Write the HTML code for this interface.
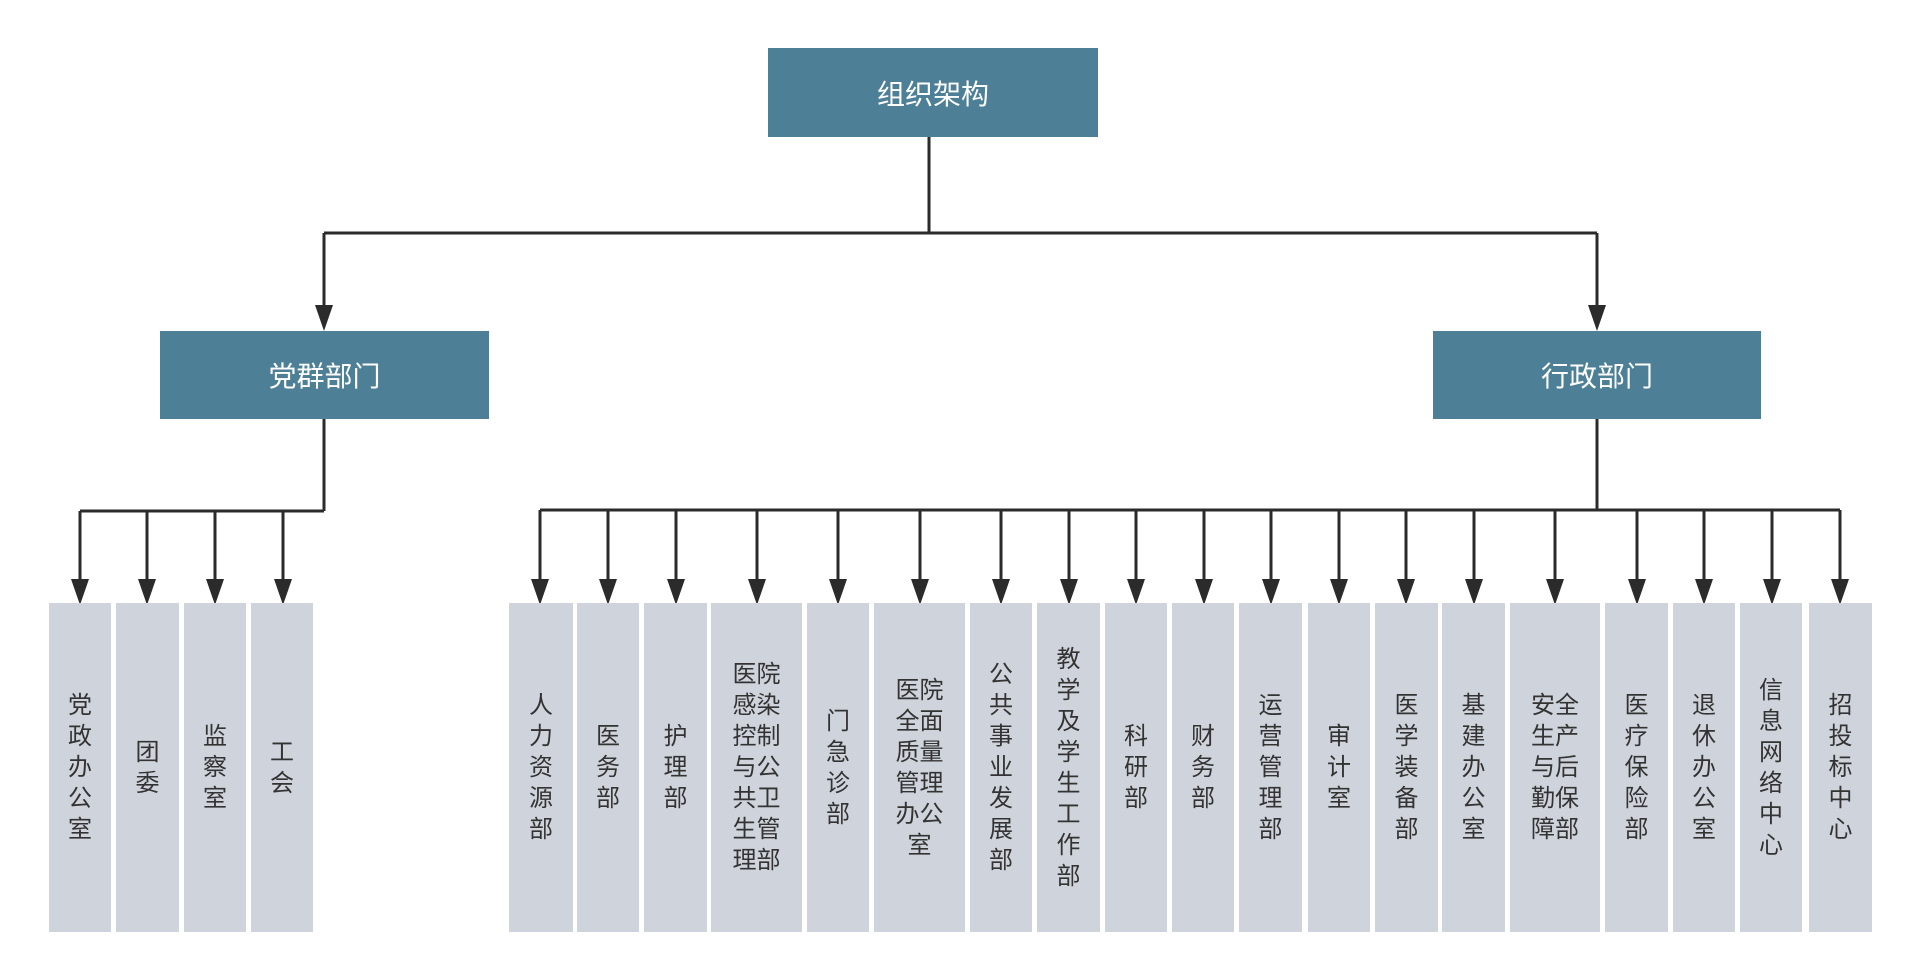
<!DOCTYPE html>
<html><head><meta charset="utf-8"><style>
body{margin:0;width:1920px;height:980px;background:#fff;position:relative;overflow:hidden;font-family:"Liberation Sans","Noto Sans CJK SC",sans-serif}
.h{position:absolute;background:#4d7f96;color:#fff;font-size:28px;display:flex;align-items:center;justify-content:center}
.b{position:absolute;top:603px;height:329px;background:#cfd4dc;color:#333;font-size:24px;line-height:31px;display:flex;align-items:center;justify-content:center;text-align:center}
.b span{width:25px;word-break:break-all}
.b span.w{width:50px}
svg{position:absolute;left:0;top:0}
</style></head><body>
<svg width="1920" height="980">
<defs><marker id="a" markerWidth="18" markerHeight="26" refX="9" refY="25" orient="auto-start-reverse" markerUnits="userSpaceOnUse"><path d="M0,0 L18,0 L9,26 Z" fill="#2b2b2b" transform="rotate(0)"/></marker></defs>
<g stroke="#2b2b2b" stroke-width="3" fill="none">
<line x1="929" y1="137" x2="929" y2="233"/>
<line x1="324" y1="233" x2="1597" y2="233"/>
<line x1="324" y1="233" x2="324" y2="305"/>
<line x1="1597" y1="233" x2="1597" y2="305"/>
<line x1="324" y1="419" x2="324" y2="511"/>
<line x1="80" y1="511" x2="324" y2="511"/>
<line x1="1597" y1="419" x2="1597" y2="510"/>
<line x1="540" y1="510" x2="1840" y2="510"/>
</g>
<g fill="#2b2b2b">
<path d="M315,305 L333,305 L324,331 Z"/>
<path d="M1588,305 L1606,305 L1597,331 Z"/>
</g>
<g stroke="#2b2b2b" stroke-width="3">
<line x1="80" y1="511" x2="80" y2="580"/><line x1="147" y1="511" x2="147" y2="580"/><line x1="215" y1="511" x2="215" y2="580"/><line x1="283" y1="511" x2="283" y2="580"/>
<line x1="540" y1="510" x2="540" y2="580"/><line x1="608" y1="510" x2="608" y2="580"/><line x1="676" y1="510" x2="676" y2="580"/><line x1="757" y1="510" x2="757" y2="580"/><line x1="838" y1="510" x2="838" y2="580"/><line x1="920" y1="510" x2="920" y2="580"/><line x1="1001" y1="510" x2="1001" y2="580"/><line x1="1069" y1="510" x2="1069" y2="580"/><line x1="1136" y1="510" x2="1136" y2="580"/><line x1="1204" y1="510" x2="1204" y2="580"/><line x1="1271" y1="510" x2="1271" y2="580"/><line x1="1339" y1="510" x2="1339" y2="580"/><line x1="1406" y1="510" x2="1406" y2="580"/><line x1="1474" y1="510" x2="1474" y2="580"/><line x1="1555" y1="510" x2="1555" y2="580"/><line x1="1637" y1="510" x2="1637" y2="580"/><line x1="1704" y1="510" x2="1704" y2="580"/><line x1="1772" y1="510" x2="1772" y2="580"/><line x1="1840" y1="510" x2="1840" y2="580"/>
</g>
<g fill="#2b2b2b">
<path d="M71,579h18l-9,26z"/><path d="M138,579h18l-9,26z"/><path d="M206,579h18l-9,26z"/><path d="M274,579h18l-9,26z"/>
<path d="M531,579h18l-9,26z"/><path d="M599,579h18l-9,26z"/><path d="M667,579h18l-9,26z"/><path d="M748,579h18l-9,26z"/><path d="M829,579h18l-9,26z"/><path d="M911,579h18l-9,26z"/><path d="M992,579h18l-9,26z"/><path d="M1060,579h18l-9,26z"/><path d="M1127,579h18l-9,26z"/><path d="M1195,579h18l-9,26z"/><path d="M1262,579h18l-9,26z"/><path d="M1330,579h18l-9,26z"/><path d="M1397,579h18l-9,26z"/><path d="M1465,579h18l-9,26z"/><path d="M1546,579h18l-9,26z"/><path d="M1628,579h18l-9,26z"/><path d="M1695,579h18l-9,26z"/><path d="M1763,579h18l-9,26z"/><path d="M1831,579h18l-9,26z"/>
</g>
</svg>
<div class="h" style="left:768px;top:48px;width:330px;height:89px">组织架构</div>
<div class="h" style="left:160px;top:331px;width:329px;height:88px">党群部门</div>
<div class="h" style="left:1433px;top:331px;width:328px;height:88px">行政部门</div>

<div class="b" style="left:49px;width:62px"><span>党政办公室</span></div>
<div class="b" style="left:116px;width:63px"><span>团委</span></div>
<div class="b" style="left:184px;width:62px"><span>监察室</span></div>
<div class="b" style="left:251px;width:62px"><span>工会</span></div>

<div class="b" style="left:509px;width:64px"><span>人力资源部</span></div>
<div class="b" style="left:577px;width:62px"><span>医务部</span></div>
<div class="b" style="left:644px;width:63px"><span>护理部</span></div>
<div class="b" style="left:711px;width:91px"><span class="w">医院感染控制与公共卫生管理部</span></div>
<div class="b" style="left:807px;width:62px"><span>门急诊部</span></div>
<div class="b" style="left:874px;width:91px"><span class="w">医院全面质量管理办公室</span></div>
<div class="b" style="left:970px;width:62px"><span>公共事业发展部</span></div>
<div class="b" style="left:1037px;width:63px"><span>教学及学生工作部</span></div>
<div class="b" style="left:1105px;width:62px"><span>科研部</span></div>
<div class="b" style="left:1172px;width:62px"><span>财务部</span></div>
<div class="b" style="left:1239px;width:63px"><span>运营管理部</span></div>
<div class="b" style="left:1308px;width:62px"><span>审计室</span></div>
<div class="b" style="left:1375px;width:63px"><span>医学装备部</span></div>
<div class="b" style="left:1442px;width:63px"><span>基建办公室</span></div>
<div class="b" style="left:1510px;width:90px"><span class="w">安全生产与后勤保障部</span></div>
<div class="b" style="left:1605px;width:63px"><span>医疗保险部</span></div>
<div class="b" style="left:1673px;width:62px"><span>退休办公室</span></div>
<div class="b" style="left:1740px;width:62px"><span>信息网络中心</span></div>
<div class="b" style="left:1809px;width:63px"><span>招投标中心</span></div>
</body></html>
